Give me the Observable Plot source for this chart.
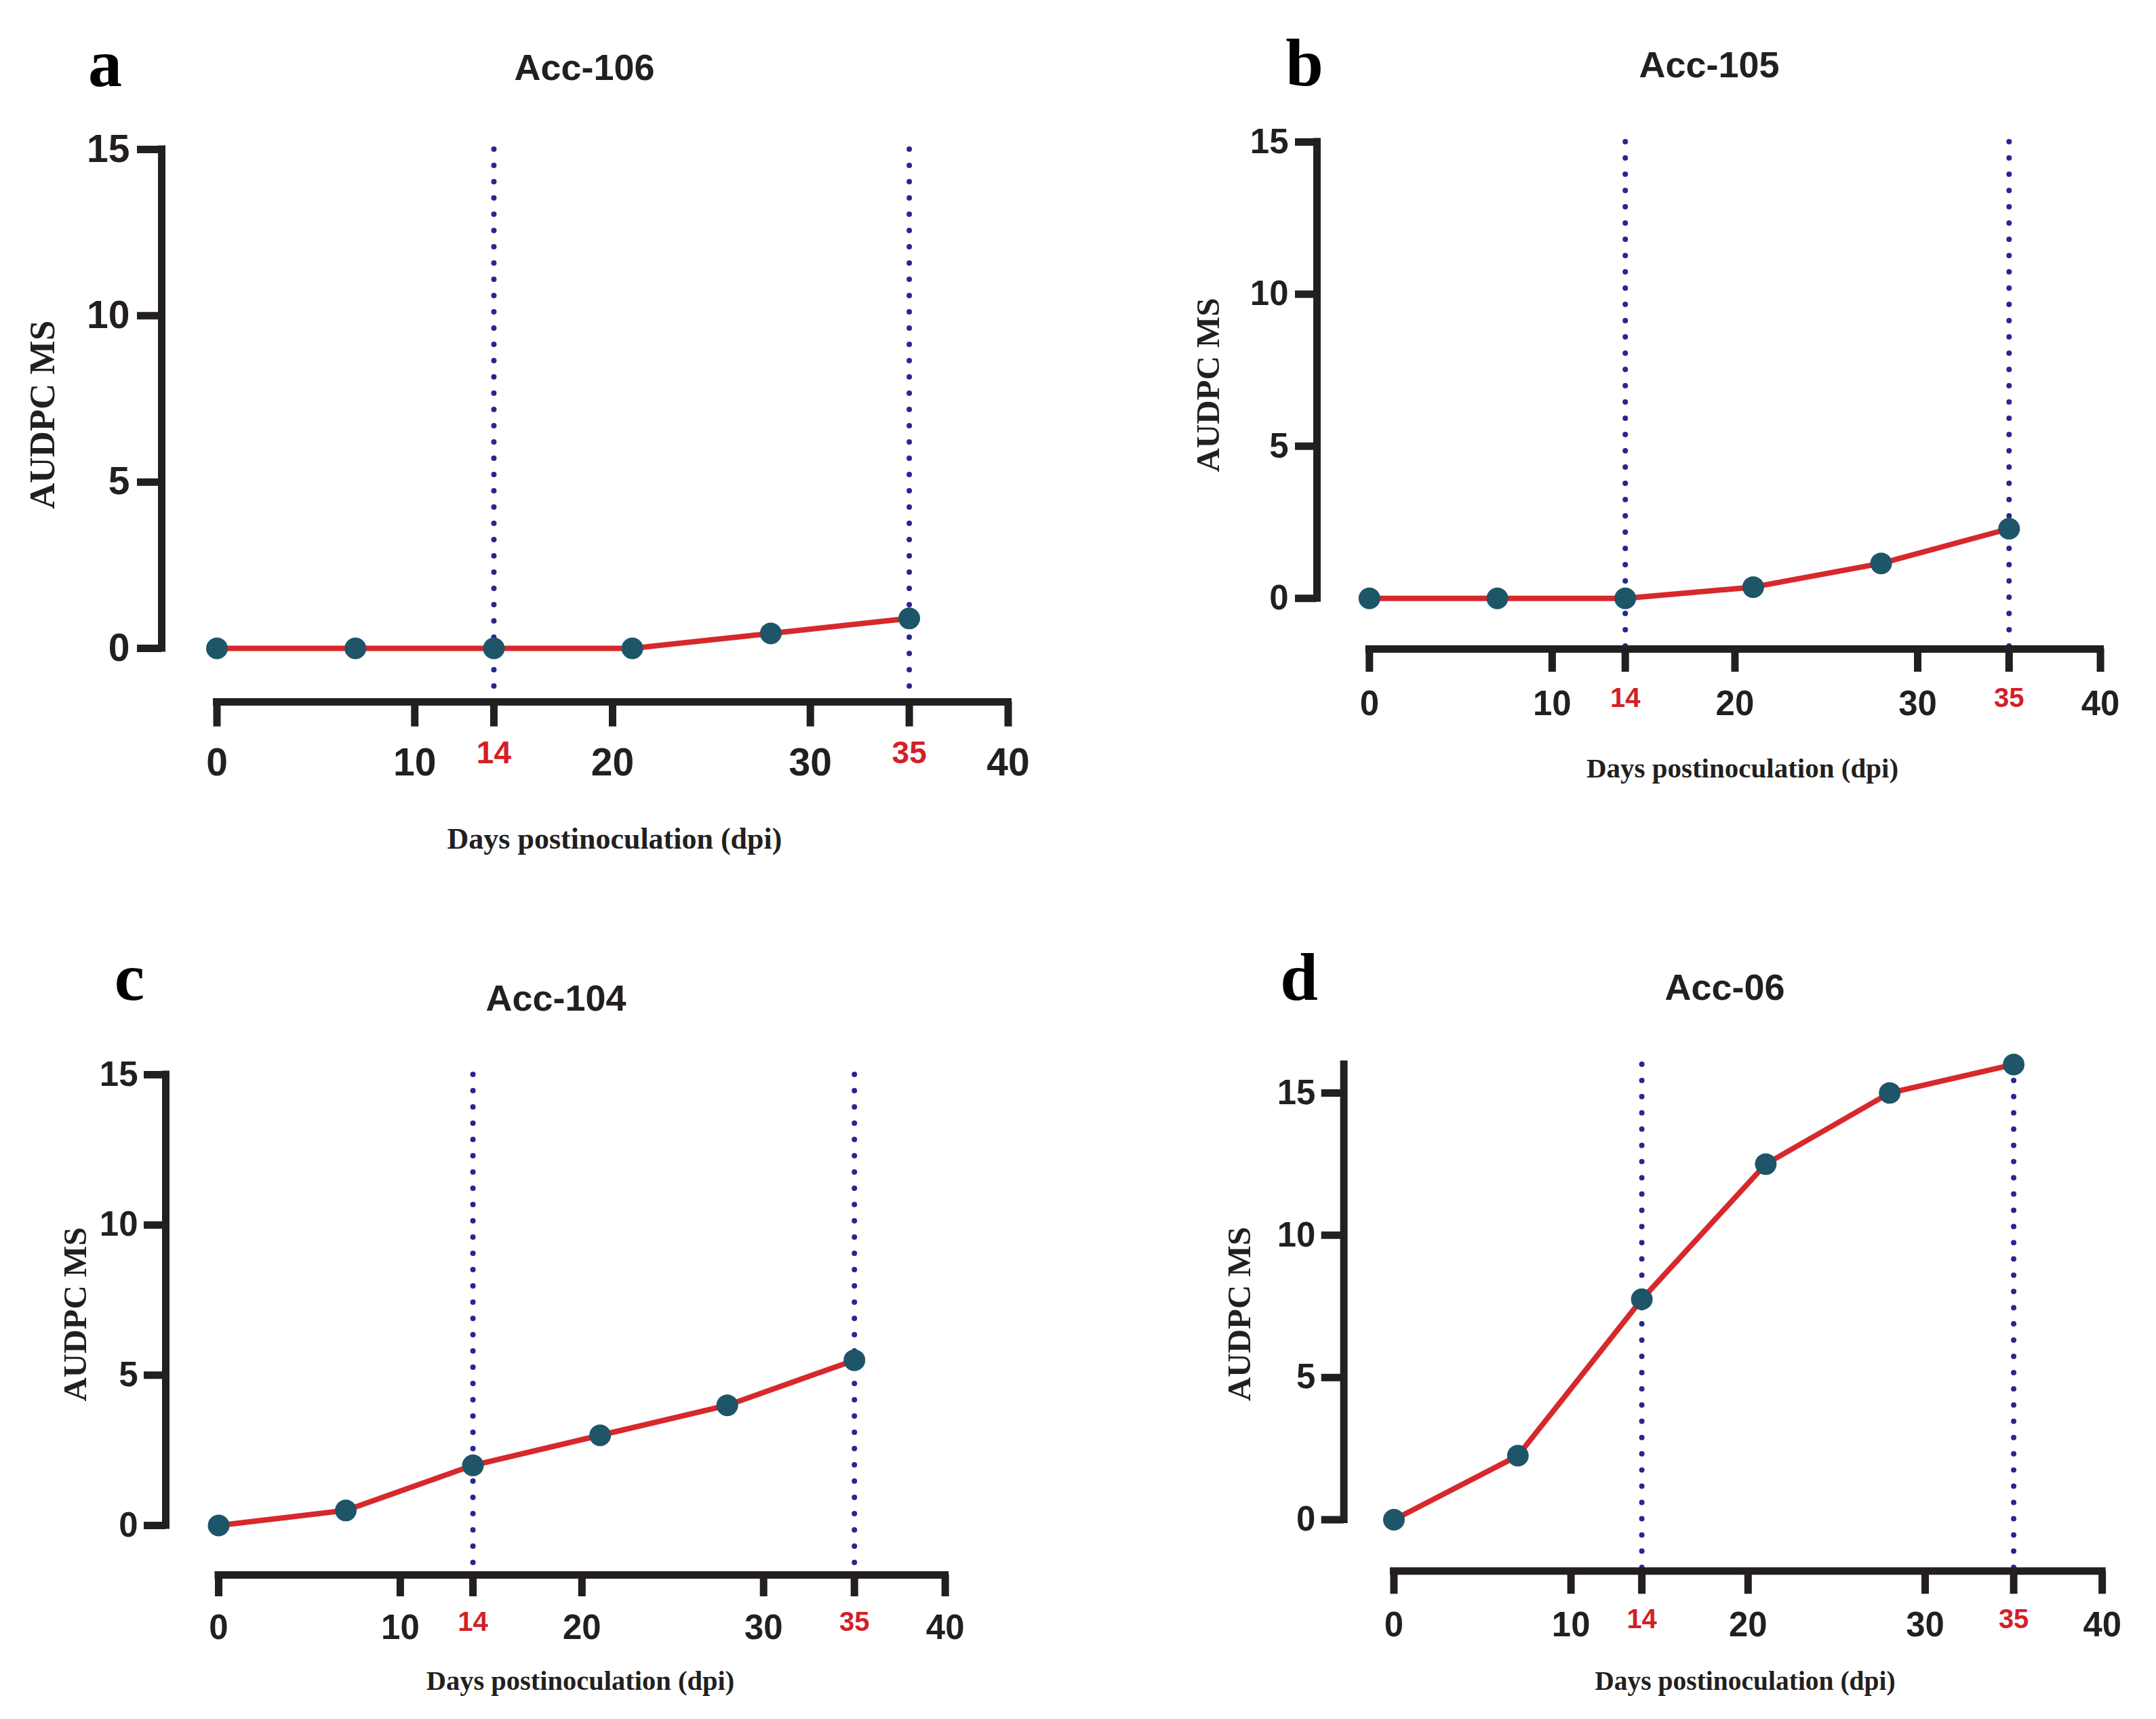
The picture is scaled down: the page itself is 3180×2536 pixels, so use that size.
<!DOCTYPE html>
<html>
<head>
<meta charset="utf-8">
<script src="https://cdn.jsdelivr.net/npm/d3@7"></script>
<script src="https://cdn.jsdelivr.net/npm/@observablehq/plot@0.6"></script>
<style>
  html, body { margin: 0; padding: 0; background: #ffffff; }
  #page { position: relative; width: 3180px; height: 2536px; background: #ffffff; overflow: hidden; }
  .panel { position: absolute; }
  #notes { position: absolute; left: 0; top: 0; pointer-events: none; }
</style>
</head>
<body>
<div id="page"></div>
<script>
// ---- data ----
const days = [0, 7, 14, 21, 28, 35];
const acc106 = [0, 0, 0, 0, 0.45, 0.9];
const acc105 = [0, 0, 0, 0.37, 1.15, 2.29];
const acc104 = [0, 0.5, 2, 3, 4, 5.5];
const acc06 = [0, 2.25, 7.75, 12.5, 15, 16];
const titles = ["Acc-106", "Acc-105", "Acc-104", "Acc-06"];
const letters = ["a", "b", "c", "d"];
const yTicks = [0, 5, 10, 15];
const xTicks = [0, 10, 20, 30, 40];
const markDays = [14, 35];
const yLabel = "AUDPC MS";
const xLabel = "Days postinoculation (dpi)";
const seriesList = [acc106, acc105, acc104, acc06];

// ---- styles ----
const AXIS = "#231f20", RED_LINE = "#d7282b", RED_TEXT = "#d32027", DOT = "#1e5568", NAVY = "#27278f";
const SANS = "'Liberation Sans', Arial, Helvetica, sans-serif";
const SERIF = "'Liberation Serif', 'Times New Roman', serif";

// ---- layout (page pixels) ----
const layouts = [
  {yAxisX: 237.5, x0: 319, x40: 1486, y0: 956, y15: 220, xAxisY: 1035, yMax: 15,
   font: 57, redFont: 46, ytick: 36, ypad: 11, xtick: 36.7, xpad: 31.5, rpad: 57.7,
   letter: [155, 127], title: [862, 118], ylab: [80, 612, 53], xlab: [906.5, 1252, 44]},
  {yAxisX: 1942, x0: 2019.3, x40: 3097.6, y0: 882.6, y15: 209.3, xAxisY: 957.3, yMax: 15,
   font: 51, redFont: 40, ytick: 32, ypad: 10, xtick: 34, xpad: 27, rpad: 57,
   letter: [1924, 126], title: [2521, 113.6], ylab: [1798, 568, 49], xlab: [2570, 1147, 41]},
  {yAxisX: 244, x0: 322, x40: 1393.7, y0: 2250, y15: 1585, xAxisY: 2323, yMax: 15,
   font: 51, redFont: 40, ytick: 32, ypad: 9, xtick: 32, xpad: 26.5, rpad: 54,
   letter: [191, 1475], title: [820, 1491], ylab: [127, 1939, 49], xlab: [856, 2493, 40.5]},
  {yAxisX: 1982, x0: 2056, x40: 3103, y0: 2243, y15: 1612, xAxisY: 2319, yMax: 16,
   font: 51, redFont: 40, ytick: 33, ypad: 9, xtick: 34, xpad: 26, rpad: 56,
   letter: [1916, 1475], title: [2544, 1475], ylab: [1844, 1938.5, 49], xlab: [2574, 2493, 39.5]}
];

const page = document.getElementById("page");
const mL = 170, mT = 30, mR = 80, mB = 150;

seriesList.forEach((values, i) => {
  const l = layouts[i];
  const ppu = (l.y0 - l.y15) / 15;
  const xppu = (l.x40 - l.x0) / 40;
  const xLo = -(l.x0 - l.yAxisX) / xppu;
  const yLo = -(l.xAxisY - l.y0) / ppu;
  const yTopPx = l.y0 - l.yMax * ppu;
  const left = l.yAxisX - mL, top = yTopPx - mT;
  const width = l.x40 + mR - left, height = l.xAxisY + mB - top;
  const data = days.map((d, k) => ({day: d, v: values[k]}));

  const plot = Plot.plot({
    width, height,
    marginLeft: mL, marginRight: mR, marginTop: mT, marginBottom: mB,
    x: {domain: [xLo, 40], label: null},
    y: {domain: [yLo, l.yMax], label: null},
    style: {fontFamily: SANS, fontSize: l.font + "px", fontWeight: "bold", color: AXIS, background: "transparent", overflow: "visible"},
    marks: [
      Plot.ruleX(markDays, {y1: l.yMax, y2: yLo, stroke: NAVY, strokeWidth: 8, strokeDasharray: "0 24", strokeLinecap: "round"}),
      Plot.ruleX([xLo], {y1: 0, y2: l.yMax, stroke: AXIS, strokeWidth: 11, strokeLinecap: "square"}),
      Plot.ruleY([yLo], {x1: 0, x2: 40, stroke: AXIS, strokeWidth: 11, strokeLinecap: "square"}),
      Plot.axisY({ticks: yTicks, tickSize: l.ytick, tickPadding: l.ypad, strokeWidth: 11, fontSize: l.font, fontWeight: "bold", label: null, tickFormat: d => String(d)}),
      Plot.axisX({ticks: xTicks.concat(markDays), tickSize: l.xtick, tickPadding: l.xpad, strokeWidth: 11, fontSize: l.font, fontWeight: "bold", label: null,
                  tickFormat: d => markDays.includes(d) ? "" : String(d)}),
      Plot.axisX({ticks: markDays, tickSize: 0, tickPadding: l.rpad, color: RED_TEXT, fontSize: l.redFont, fontWeight: "bold", label: null, tickFormat: d => String(d)}),
      Plot.line(data, {x: "day", y: "v", stroke: RED_LINE, strokeWidth: 8}),
      Plot.dot(data, {x: "day", y: "v", r: 16, fill: DOT, stroke: "none"})
    ]
  });
  const wrap = document.createElement("div");
  wrap.className = "panel";
  wrap.style.left = left + "px";
  wrap.style.top = top + "px";
  wrap.appendChild(plot);
  page.appendChild(wrap);
});

// ---- annotations: panel letters, titles, axis titles ----
const NS = "http://www.w3.org/2000/svg";
const notes = document.createElementNS(NS, "svg");
notes.setAttribute("id", "notes");
notes.setAttribute("width", 3180);
notes.setAttribute("height", 2536);
function addText(str, x, y, attrs, rotate) {
  const t = document.createElementNS(NS, "text");
  t.textContent = str;
  if (rotate) {
    t.setAttribute("transform", `translate(${x},${y}) rotate(-90)`);
  } else {
    t.setAttribute("x", x); t.setAttribute("y", y);
  }
  for (const k in attrs) t.setAttribute(k, attrs[k]);
  notes.appendChild(t);
}
layouts.forEach((l, i) => {
  addText(letters[i], l.letter[0], l.letter[1], {"font-family": SERIF, "font-weight": "bold", "font-size": 100, "text-anchor": "middle", fill: "#000"});
  addText(titles[i], l.title[0], l.title[1], {"font-family": SANS, "font-weight": "bold", "font-size": 54, "text-anchor": "middle", fill: AXIS});
  addText(yLabel, l.ylab[0], l.ylab[1], {"font-family": SERIF, "font-weight": "bold", "font-size": l.ylab[2], "text-anchor": "middle", fill: AXIS}, true);
  addText(xLabel, l.xlab[0], l.xlab[1], {"font-family": SERIF, "font-weight": "bold", "font-size": l.xlab[2], "text-anchor": "middle", fill: AXIS});
});
page.appendChild(notes);
</script>
</body>
</html>
